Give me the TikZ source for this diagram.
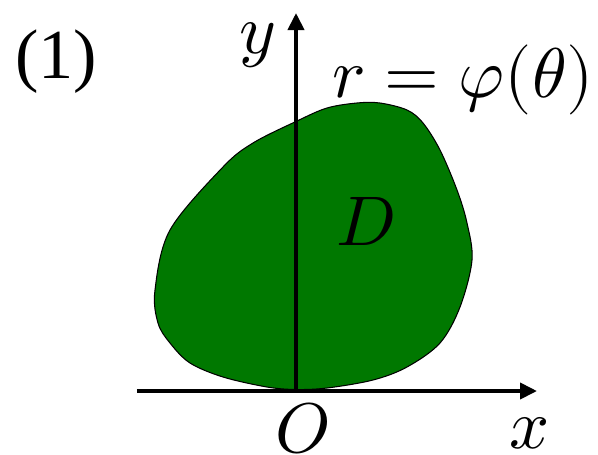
\documentclass[tikz,border=0pt]{standalone}
\usepackage{fontspec}
\usepackage{unicode-math}
\setmainfont{Liberation Serif}
\setmathfont{Latin Modern Math}
\usepackage{tikz}
\usetikzlibrary{positioning,arrows.meta}
\definecolor{regiongreen}{HTML}{007800}

\begin{document}
\begin{tikzpicture}[
    axis/.style={-{Triangle[length=3.4mm,width=3.2mm]},line width=2.2pt,black},
    region/.style={fill=regiongreen,draw=black,line width=0.6pt},
    lbl/.style={font=\fontsize{40}{48}\selectfont,inner sep=0pt}
  ]
    \useasboundingbox (-5.92,-1.26) rectangle (6.04,7.82);
    % Region D
    \draw[region] plot[smooth cycle,tension=0.55] coordinates {
      (0,0.03) (0.62,0.06) (1.54,0.22) (2.22,0.48) (2.88,0.96) (3.28,1.68)
      (3.52,2.62) (3.42,3.36) (3.22,4.02) (2.88,4.82) (2.54,5.36) (2.22,5.62)
      (1.68,5.76) (1.22,5.76) (0.62,5.66) (0.02,5.40) (-0.86,4.96)
      (-1.46,4.48) (-2.52,3.22) (-2.82,2.02)
      (-2.76,1.36) (-2.52,0.96) (-2.12,0.56) (-1.46,0.28) (-0.58,0.08)};
    % Axes
    \coordinate (O) at (0,0);
    \coordinate (xs) at (-3.18,0);
    \coordinate (xe) at (4.82,0);
    \coordinate (ye) at (0,7.56);
    \draw[axis] (xs) -- (xe);
    \draw[axis] (O) -- (ye);
    % Labels
    \node[lbl] (lO) at (0.12,-0.74) {$O$};
    \node[lbl] (lx) at (4.68,-0.84) {$x$};
    \node[lbl] (ly) at (-0.76,6.92) {$y$};
    \node[lbl] (lD) at (1.4,3.4) {$D$};
    \node[lbl] (lr) at (3.34,6.22) {$r=\varphi(\theta)$};
    \node[lbl] (ln) at (-4.8,6.58) {(1)};
\end{tikzpicture}
\end{document}
